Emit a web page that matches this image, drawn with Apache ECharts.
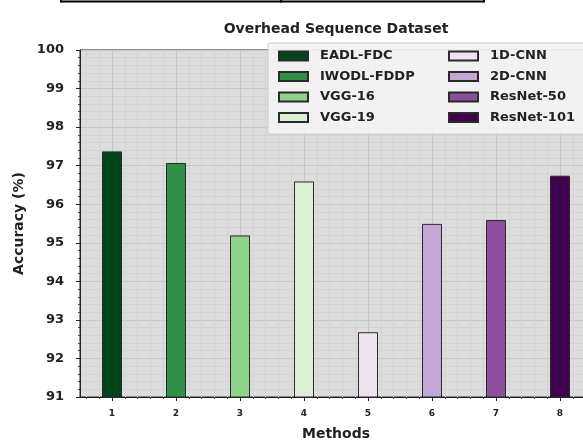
<!DOCTYPE html>
<html><head><meta charset="utf-8">
<script src="https://cdn.jsdelivr.net/npm/echarts@6/dist/echarts.min.js"></script>
<style>html,body{margin:0;padding:0;background:#fff}#c{width:583px;height:441px}</style>
</head><body><div id="c"></div>
<script>
const methods = ['EADL-FDC','IWODL-FDDP','VGG-16','VGG-19','1D-CNN','2D-CNN','ResNet-50','ResNet-101'];
const positions = [1,2,3,4,5,6,7,8];
const xTickLabels = ['1','2','3','4','5','6','7','8'];
const accuracy = [97.37, 97.07, 95.19, 96.59, 92.68, 95.49, 95.59, 96.74];
const colors = ['#00441b','#30904a','#92d28f','#dcf0d5','#efe3f0','#c4a6d6','#8b4f9c','#40004b'];
const yMin = 91, yMax = 100;

const minorX = [];
for (let k = 6; k <= 84; k += 2) { if (k % 10 !== 0) minorX.push(k / 10); }

const FONT = 'DejaVu Sans';
const chart = echarts.init(document.getElementById('c'), null, {renderer:'canvas'});
const series = methods.map((m, i) => ({
  name: m, type: 'bar', xAxisIndex: 0,
  data: [[positions[i], accuracy[i]]],
  barWidth: 20, barGap: '-100%',
  itemStyle: {color: colors[i], borderColor: '#2a2a2a', borderWidth: 1}
}));
const legendCommon = {
  orient: 'vertical', itemWidth: 29, itemHeight: 9, itemGap: 6.5, padding: 0, z: 10,
  icon: 'rect',
  textStyle: {fontFamily: FONT, fontSize: 13, fontWeight: 'bold', color: '#222', lineHeight: 14, padding: [0,0,0,7]}
};
chart.setOption({
  animation: false,
  backgroundColor: '#fff',
  title: {text: 'Overhead Sequence Dataset', left: 331, textAlign: 'center', top: 17,
    textStyle: {fontFamily: FONT, fontSize: 14, fontWeight: 'bold', color: '#222'}},
  grid: {left: 80, right: -9, top: 50, bottom: 44, outerBoundsMode: 'none', containLabel: false,
    show: true, backgroundColor: '#dddddd', borderColor: '#222', borderWidth: 1},
  legend: [
    Object.assign({left: 278, top: 49, data: methods.slice(0,4)}, legendCommon),
    Object.assign({left: 448, top: 49, data: methods.slice(4)}, legendCommon)
  ],
  graphic: [
    {type:'rect', z: 5, shape:{x:268, y:43, width:330, height:91, r:2}, style:{fill:'rgba(244,244,244,0.9)', stroke:'#cccccc', lineWidth:1}},
    {type:'line', shape:{x1:61,y1:1.5,x2:484,y2:1.5}, style:{stroke:'#000', lineWidth:2}},
    {type:'line', shape:{x1:61,y1:0,x2:61,y2:2.5}, style:{stroke:'#000', lineWidth:2}},
    {type:'line', shape:{x1:281,y1:0,x2:281,y2:2.5}, style:{stroke:'#000', lineWidth:2}},
    {type:'line', shape:{x1:484,y1:0,x2:484,y2:2.5}, style:{stroke:'#000', lineWidth:2}}
  ],
  xAxis: [
    {type: 'value', min: 0.5, max: 8.5, position: 'bottom',
     name: 'Methods', nameLocation: 'middle', nameGap: 30,
     nameTextStyle: {fontFamily: FONT, fontSize: 14, fontWeight: 'bold', color: '#222'},
     axisLine: {show: true, lineStyle: {color: '#222', width: 1}},
     axisTick: {show: true, customValues: positions, length: 4, lineStyle: {color: '#222'}},
     axisLabel: {customValues: positions, formatter: v => xTickLabels[positions.indexOf(Math.round(v))] || '',
       fontFamily: FONT, fontSize: 9, fontWeight: 'bold', color: '#222', margin: 12},
     splitLine: {show: true, lineStyle: {color: '#c6c6c6', width: 1}}},
    {type: 'value', min: 0.5, max: 8.5, position: 'bottom',
     axisLine: {show: false}, axisLabel: {show: false},
     axisTick: {show: true, customValues: minorX, length: 2, lineStyle: {color: '#444'}},
     splitLine: {show: true, lineStyle: {color: '#d3d3d3', width: 1}}}
  ],
  yAxis: {type: 'value', min: yMin, max: yMax, interval: 1,
    name: 'Accuracy (%)', nameLocation: 'middle', nameGap: 51,
    nameTextStyle: {fontFamily: FONT, fontSize: 14, fontWeight: 'bold', color: '#222'},
    axisLine: {show: true, lineStyle: {color: '#222'}},
    axisTick: {show: true, length: 4, lineStyle: {color: '#222'}},
    minorTick: {show: true, splitNumber: 5, length: 2, lineStyle: {color: '#444'}},
    axisLabel: {fontFamily: FONT, fontSize: 13, fontWeight: 'bold', color: '#222', margin: 16},
    splitLine: {show: true, lineStyle: {color: '#c6c6c6', width: 1}},
    minorSplitLine: {show: true, lineStyle: {color: '#d3d3d3', width: 1}}},
  series: series
});
</script></body></html>
